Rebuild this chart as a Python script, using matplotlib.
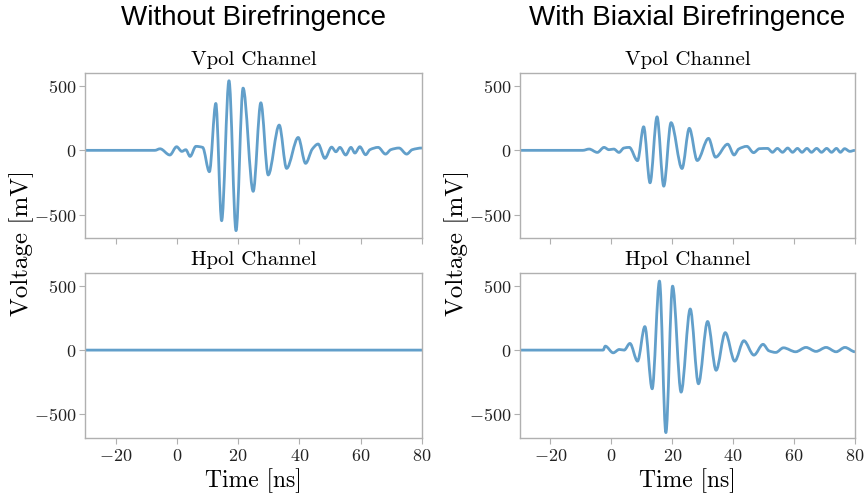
import matplotlib
matplotlib.use("Agg")
import matplotlib.pyplot as plt
from matplotlib.path import Path
from matplotlib.patches import PathPatch
import numpy as np

# ---------------- data ----------------
# Without birefringence, Vpol channel
t_vpol_nobi = [-30, -7.2, -5.5, -2.3, -0.1, 1.6, 2.9, 4.3, 6.2, 8.4, 10.6, 12.7, 14.6,
               17.0, 19.3, 21.6, 24.9, 27.4, 29.8, 33.4, 35.8, 39.6, 42.0, 44.2, 46.1,
               48.3, 50.5, 51.9, 53.2, 55.1, 56.8, 58.1, 59.7, 61.6, 63.0, 65.7, 68.1,
               69.8, 72.5, 75.0, 76.8, 80]
v_vpol_nobi = [0, 0, 12, -36, 28, -8, 5, -47, 31, 23, -166, 364, -546,
               540, -623, 483, -318, 369, -191, 196, -140, 100, -101, 10, 49,
               -62, 25, -11, 23, -36, 23, -21, 28, -34, 5, 23, -29,
               5, 18, -29, 5, 18]

# Without birefringence, Hpol channel (flat)
t_hpol_nobi = [-30, 80]
v_hpol_nobi = [0, 0]

# With biaxial birefringence, Vpol channel
t_vpol_bi = [-30, -9.4, -7.3, -4.6, -2.4, -0.8, 0.8, 2.5, 4.1, 5.9, 8.6, 10.6, 12.7,
             15.0, 17.2, 19.6, 23.2, 25.6, 28.2, 31.9, 34.2, 38.2, 40.3, 41.8, 44.5,
             46.7, 48.6, 51.3, 52.9, 54.5, 56.2, 57.9, 59.5, 61.1, 62.6, 64.2, 65.7,
             67.4, 69.0, 70.7, 72.3, 73.9, 75.2, 76.6, 78.3, 80]
v_vpol_bi = [0, 0, 10, -16, 23, 5, 10, -16, 18, 23, -80, 183, -252,
             260, -278, 215, -141, 171, -79, 93, -53, 48, -36, 10, 31,
             -18, 13, 15, -15, 15, -15, 18, -15, 15, -15, 15, -15,
             15, -15, 15, -15, 15, -15, 13, -8, 0]

# With biaxial birefringence, Hpol channel
t_hpol_bi = [-30, -2.7, -2.0, 0.6, 2.6, 4.2, 6.1, 8.6, 11.0, 13.4, 15.8, 17.9, 20.1,
             22.9, 25.9, 28.6, 31.6, 34.4, 37.4, 40.5, 43.5, 46.8, 49.8, 51.7, 54.0,
             56.5, 60.5, 63.9, 67.2, 70.5, 73.8, 76.7, 80]
v_hpol_bi = [0, 0, 31, -21, 5, 0, 52, -86, 183, -301, 537, -642, 498,
             -327, 320, -262, 223, -157, 136, -86, 73, -39, 45, -5, -18,
             18, -13, 21, -10, 21, -13, 21, -13]

column_titles = ["Without Birefringence", "With Biaxial Birefringence"]
row_titles = ["Vpol Channel", "Hpol Channel"]
x_ticks = [-20, 0, 20, 40, 60, 80]
y_ticks = [-500, 0, 500]

# ---------------- style ----------------
plt.rcParams['font.family'] = 'serif'
plt.rcParams['font.serif'] = ['cmr10']
plt.rcParams['mathtext.fontset'] = 'cm'
plt.rcParams['axes.formatter.use_mathtext'] = True
plt.rcParams['axes.unicode_minus'] = True

W, H = 865, 498
fig = plt.figure(figsize=(W / 100, H / 100), dpi=100)


def frac_rect(x0, y0, x1, y1):
    return [x0 / W, 1 - y1 / H, (x1 - x0) / W, (y1 - y0) / H]


def smooth_path(t, v):
    """Smooth (monotone cubic Bezier) line through the read points."""
    t = np.asarray(t, float)
    v = np.asarray(v, float)
    n = len(t)
    h = np.diff(t)
    d = np.diff(v) / h
    m = np.zeros(n)
    for i in range(1, n - 1):
        if d[i - 1] * d[i] > 0:
            w1 = 2 * h[i] + h[i - 1]
            w2 = h[i] + 2 * h[i - 1]
            m[i] = (w1 + w2) / (w1 / d[i - 1] + w2 / d[i])
    verts = [(t[0], v[0])]
    codes = [Path.MOVETO]
    for i in range(n - 1):
        verts += [(t[i] + h[i] / 3, v[i] + m[i] * h[i] / 3),
                  (t[i + 1] - h[i] / 3, v[i + 1] - m[i + 1] * h[i] / 3),
                  (t[i + 1], v[i + 1])]
        codes += [Path.CURVE4] * 3
    return Path(verts, codes)


col_x = [(85, 422), (520, 855)]
row_y = [(73, 238), (273, 437.5)]

data = [[(t_vpol_nobi, v_vpol_nobi), (t_hpol_nobi, v_hpol_nobi)],
        [(t_vpol_bi, v_vpol_bi), (t_hpol_bi, v_hpol_bi)]]

spine_col = '#b0b0b0'
line_col = '#1f77b4'

for c in range(2):
    for r in range(2):
        ax = fig.add_axes(frac_rect(col_x[c][0], row_y[r][0], col_x[c][1], row_y[r][1]))
        t, v = data[c][r]
        ax.add_patch(PathPatch(smooth_path(t, v), facecolor='none', edgecolor=line_col,
                               alpha=0.7, lw=2.0, joinstyle='round', capstyle='butt'))
        ax.set_xlim(-30, 80)
        ax.set_ylim(-680, 600)
        ax.set_xticks(x_ticks)
        ax.set_yticks(y_ticks)
        for s in ax.spines.values():
            s.set_color(spine_col)
            s.set_linewidth(1.0)
        ax.tick_params(colors=spine_col, labelcolor='#222222', labelsize=13,
                       length=4, width=0.8)
        ax.tick_params(axis='y', pad=2.5)
        if r == 0:
            ax.tick_params(labelbottom=False)
        else:
            ax.set_xlabel('Time [ns]', fontsize=17, labelpad=3)
        ax.set_title(row_titles[r], fontsize=15, pad=6)

    xc = (col_x[c][0] + col_x[c][1]) / 2 / W
    fig.text(xc, 1 - 18 / H, column_titles[c], ha='center', va='center',
             fontsize=20, family='Liberation Sans')
    yl_x = [22, 457][c]
    fig.text(yl_x / W, 1 - 243 / H, 'Voltage [mV]', rotation=90,
             ha='center', va='center', fontsize=18)

fig.savefig('out.png', dpi=100)
